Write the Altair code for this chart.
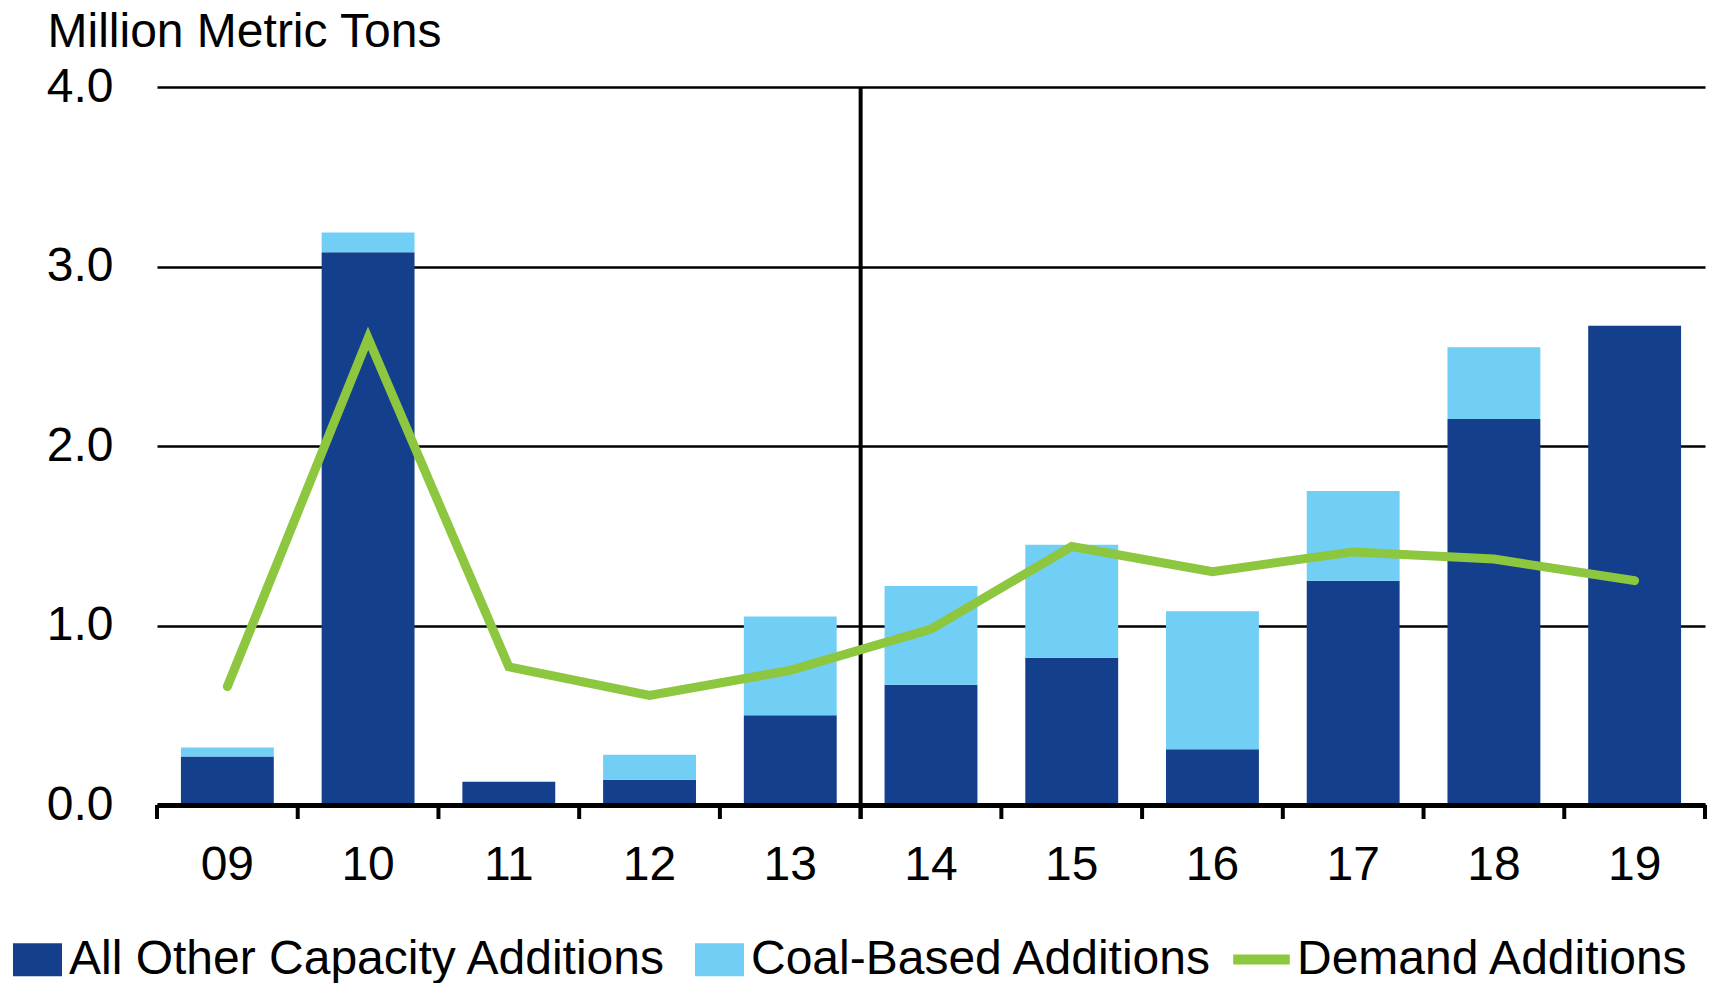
import altair as alt
import pandas as pd

# Years shown on the x axis (2009-2019); 2014 onward is the projection period
years = ["09", "10", "11", "12", "13", "14", "15", "16", "17", "18", "19"]

# Million metric tons per year
other_capacity = [0.27, 3.08, 0.13, 0.14, 0.50, 0.67, 0.82, 0.31, 1.25, 2.15, 2.67]
coal_based = [0.05, 0.11, 0.00, 0.14, 0.55, 0.55, 0.63, 0.77, 0.50, 0.40, 0.00]
demand = [0.66, 2.60, 0.77, 0.61, 0.75, 0.98, 1.44, 1.30, 1.41, 1.37, 1.25]

series_names = ["All Other Capacity Additions", "Coal-Based Additions", "Demand Additions"]
y_ticks = [0, 1, 2, 3, 4]
projection_start = "14"

DARK = "#143F8C"
LIGHT = "#71CFF5"
GREEN = "#8DC63F"
FONT = "Liberation Sans"
FS = 48
W, H = 1548, 718
TICK_LEN = 14

bars_df = pd.DataFrame({
    "year": years * 2,
    "series": [series_names[0]] * len(years) + [series_names[1]] * len(years),
    "value": other_capacity + coal_based,
    "stack_order": [0] * len(years) + [1] * len(years),
})
line_df = pd.DataFrame({"year": years, "series": series_names[2], "value": demand})
split_df = pd.DataFrame({"year": [projection_start]})
years_df = pd.DataFrame({"year": years})
last_year_df = pd.DataFrame({"year": [years[-1]]})

x_axis = alt.Axis(
    title=None, labelAngle=0, labelFontSize=FS, labelFont=FONT, labelColor="black",
    labelPadding=36, ticks=False,
    domainWidth=5, domainColor="black", grid=False, zindex=1,
)
x_scale = alt.Scale(paddingInner=0, paddingOuter=0)

y_axis = alt.Axis(
    values=y_ticks, format=".1f",
    title="Million Metric Tons", titleAngle=0, titleAlign="left", titleBaseline="alphabetic",
    titleX=-110, titleY=-41, titleFontSize=FS, titleFont=FONT, titleFontWeight="normal",
    titleColor="black",
    labelFontSize=FS, labelFont=FONT, labelColor="black", labelPadding=44,
    ticks=False, domain=False,
    grid=True, gridColor="black", gridWidth=2.5, zindex=0,
)
y_scale = alt.Scale(domain=[0, 4], nice=False)


def x_at(position):
    return alt.X("year:N", sort=years, bandPosition=position, scale=x_scale, axis=x_axis)


bars = alt.Chart(bars_df).mark_bar(width=alt.RelativeBandSize(0.66)).encode(
    x=x_at(0.5),
    y=alt.Y("value:Q", stack="zero", scale=y_scale, axis=y_axis),
    color=alt.Color(
        "series:N",
        scale=alt.Scale(domain=series_names[:2], range=[DARK, LIGHT]),
        legend=alt.Legend(
            orient="none", legendX=-144, legendY=848, direction="horizontal", title=None,
            symbolType="M-1,-0.67H1V0.67H-1Z", symbolSize=2401, symbolStrokeWidth=0,
            labelFontSize=FS, labelFont=FONT, labelColor="black", labelOffset=7,
            columnPadding=28, padding=0, labelLimit=2000,
        ),
    ),
    order=alt.Order("stack_order:Q"),
)

# Tick marks on the year boundaries, below the baseline
band_ticks = alt.Chart(years_df).mark_rule(color="black", strokeWidth=4).encode(
    x=x_at(0), y=alt.value(H), y2=alt.value(H + TICK_LEN),
)
end_tick = alt.Chart(last_year_df).mark_rule(color="black", strokeWidth=4).encode(
    x=x_at(1), y=alt.value(H), y2=alt.value(H + TICK_LEN),
)

# Vertical divider between actual and projected years
divider = alt.Chart(split_df).mark_rule(color="black", strokeWidth=4).encode(
    x=x_at(0), y=alt.value(0), y2=alt.value(H + TICK_LEN),
)

line = alt.Chart(line_df).mark_line(strokeWidth=9, strokeCap="round").encode(
    x=x_at(0.5),
    y=alt.Y("value:Q", scale=y_scale, axis=y_axis),
    stroke=alt.Stroke(
        "series:N",
        scale=alt.Scale(domain=[series_names[2]], range=[GREEN]),
        legend=alt.Legend(
            orient="none", legendX=1071, legendY=839, title=None,
            symbolType="stroke", symbolSize=3200, symbolStrokeWidth=10,
            labelFontSize=FS, labelFont=FONT, labelColor="black", labelOffset=2,
            padding=0, labelLimit=2000,
        ),
    ),
)

chart = (
    alt.layer(bars, band_ticks, end_tick, divider, line)
    .properties(
        width=W, height=H,
        padding={"left": 157, "top": 87, "right": 12, "bottom": 178},
        autosize=alt.AutoSizeParams(type="none"),
    )
    .configure(font=FONT, view=alt.ViewConfig(stroke=None, strokeWidth=0))
)

chart.save("out.html", embed_options={"renderer": "svg", "actions": False})
